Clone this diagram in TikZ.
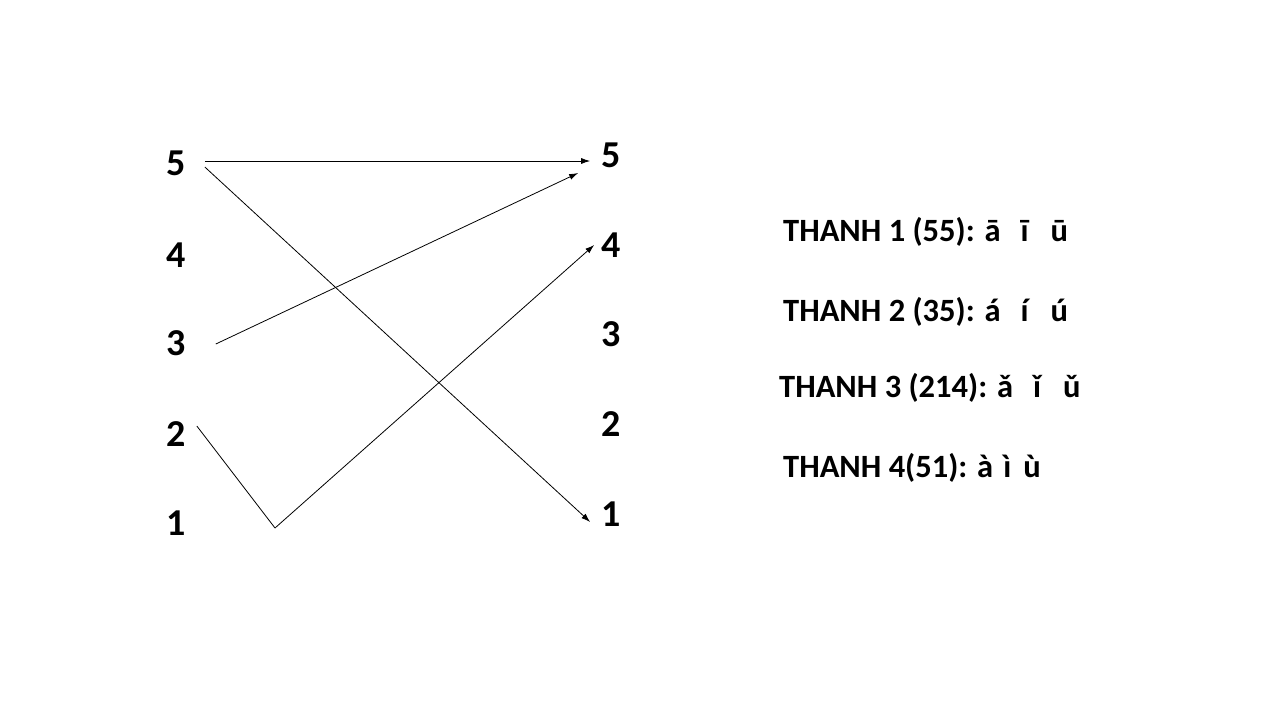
\documentclass[tikz,border=0pt]{standalone}
\usepackage{fontspec}
\setmainfont{Carlito}
\usetikzlibrary{arrows.meta}

\begin{document}
\begin{tikzpicture}[x=1pt, y=-1pt,
        num/.style={inner sep=0pt, font=\fontsize{38}{40}\selectfont\bfseries},
        tone/.style={inner sep=0pt, anchor=base west, font=\fontsize{32.5}{36}\selectfont\bfseries},
        arr/.style={-{Latex[length=9pt,width=6pt]}, line width=0.8pt}]
        \useasboundingbox (0,0) rectangle (1280,720);

        % left scale
        \node[num] (l5) at (176,163) {5};
        \node[num] (l4) at (176,255) {4};
        \node[num] (l3) at (176,343) {3};
        \node[num] (l2) at (176,434) {2};
        \node[num] (l1) at (176,523) {1};

        % right scale
        \node[num] (r5) at (611,155) {5};
        \node[num] (r4) at (611,245) {4};
        \node[num] (r3) at (611,334) {3};
        \node[num] (r2) at (611,424) {2};
        \node[num] (r1) at (611,514) {1};

        \coordinate (dip) at (275,528);

        \draw[arr] ([xshift=19pt,yshift=2pt]l5.east) -- ([xshift=-11pt,yshift=-6pt]r5.west);
        \draw[arr] ([xshift=19pt,yshift=-4pt]l5.east) -- ([xshift=-11pt,yshift=-8pt]r1.west);
        \draw[arr] ([xshift=30pt,yshift=-1pt]l3.east) -- ([xshift=-23pt,yshift=-18pt]r5.west);
        \draw[line width=0.8pt] ([xshift=11pt,yshift=8pt]l2.east) -- (dip);
        \draw[arr] (dip) -- ([xshift=-7pt]r4.west);

        % tone labels
        \node[tone] (t1) at (783,241) {THANH 1 (55): ā\hspace{20pt}ī\hspace{22pt}ū};
        \node[tone] (t2) at (783,321) {THANH 2 (35): á\hspace{20pt}í\hspace{22pt}ú};
        \node[tone] (t3) at (779,397) {THANH 3 (214): ǎ\hspace{20pt}ǐ\hspace{22pt}ǔ};
        \node[tone] (t4) at (783,477) {THANH 4(51): à\hspace{10pt}ì\hspace{12pt}ù};
\end{tikzpicture}
\end{document}
